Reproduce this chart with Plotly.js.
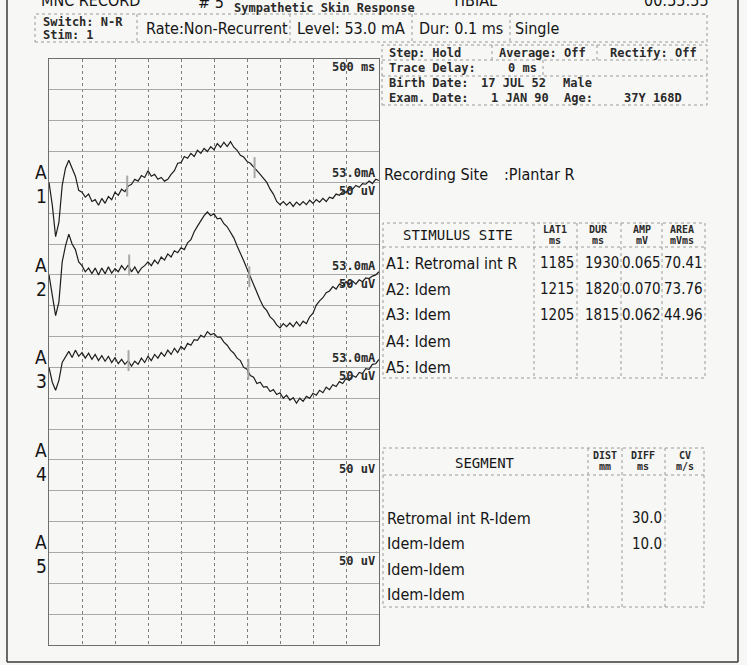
<!DOCTYPE html>
<html>
<head>
<meta charset="utf-8">
<script src="https://cdn.plot.ly/plotly-3.0.1.min.js"></script>
<style>
  html, body { margin: 0; padding: 0; background: #f7f7f5; }
  #chart { width: 747px; height: 665px; }
</style>
</head>
<body>
<div id="chart"></div>
<script>
// sweep: 500 ms/div, 10 div; sensitivity 50 uV/div
const sampleMs = 50;

// amplitudes in uV relative to each channel baseline, one sample every 50 ms
const ch1Uv = [0, -37, -88, -65, -5, 23, 36, 24, 10, -13, -16, -24, -19, -31, -28, -37, -26, -34, -23, -28,
  -16, -21, -11, -15, -6, -3, 5, 2, 11, 8, 19, 10, 13, 5, 8, 2, 5, 13, 19, 31,
  32, 42, 39, 47, 42, 52, 47, 55, 50, 58, 53, 63, 57, 65, 58, 66, 57, 52, 44, 41,
  34, 31, 24, 19, 13, 6, 0, -11, -19, -31, -36, -31, -37, -32, -39, -32, -37, -31, -36, -29,
  -34, -28, -32, -26, -31, -24, -26, -19, -21, -15, -16, -10, -11, -5, -8, -2, -3, 2, -2, 5, 3];

const ch2Uv = [0, -32, -66, -44, 21, 47, 66, 50, 41, 21, 15, 5, 11, 2, 11, 0, 11, 2, 13, 3,
  10, 5, 15, 8, 16, 5, 13, 3, 11, 15, 21, 15, 24, 18, 29, 24, 34, 29, 39, 36,
  44, 41, 52, 57, 70, 79, 88, 96, 102, 96, 99, 91, 92, 83, 78, 68, 60, 47, 36, 23,
  10, -3, -18, -31, -41, -52, -58, -68, -73, -81, -86, -79, -84, -78, -84, -76, -83, -75, -79, -68,
  -62, -49, -42, -37, -29, -26, -19, -23, -15, -18, -11, -16, -10, -15, -8, -11, -5, -6, -2, 0, 5];

const ch3Uv = [0, -24, -37, -21, 8, 18, 26, 16, 28, 18, 24, 15, 23, 13, 21, 11, 19, 10, 18, 8,
  16, 6, 13, 5, 11, 2, 10, 5, 15, 8, 18, 11, 21, 15, 24, 18, 28, 21, 31, 24,
  34, 29, 39, 36, 45, 44, 52, 49, 58, 53, 55, 49, 49, 41, 36, 28, 23, 15, 11, 0,
  -3, -13, -16, -26, -24, -32, -31, -39, -36, -44, -41, -50, -45, -53, -49, -58, -50, -55, -47, -50,
  -42, -45, -37, -41, -32, -36, -28, -31, -23, -26, -18, -21, -13, -16, -8, -10, -2, -3, 5, 6, 13];

const channels = ["1", "2", "3", "4", "5"];
const channelLevel = ["53.0mA", "53.0mA", "53.0mA", null, null];
const channelSens = "50 uV";

const stimSites = ["A1: Retromal int R", "A2: Idem", "A3: Idem", "A4: Idem", "A5: Idem"];
const lat1Ms = [1185, 1215, 1205];
const durMs = [1930, 1820, 1815];
const ampMv = ["0.065", "0.070", "0.062"];
const areaMvms = ["70.41", "73.76", "44.96"];

const segments = ["Retromal int R-Idem", "Idem-Idem", "Idem-Idem", "Idem-Idem"];
const segDiffMs = ["30.0", "10.0"];

// ---- layout helpers (page pixels -> paper) ----
const W = 747, H = 665;
const px = x => x / W;
const py = y => 1 - y / H;
const baseUv = [750, 600, 450, 300, 150];

const cond = "DejaVu Sans Condensed, Liberation Sans, sans-serif";
const big = { family: cond, size: 16, color: "#151515" };
const num = { family: cond, size: 15, color: "#151515" };
const mono = { family: "DejaVu Sans Mono, monospace", size: 14, color: "#151515" };
const small = { family: "DejaVu Sans Mono, monospace", size: 12, color: "#2a2a2a", weight: "bold" };
const tiny = { family: "DejaVu Sans Mono, monospace", size: 10, color: "#2a2a2a", weight: "bold" };

function txt(x, y, text, font, xanchor) {
  return { xref: "paper", yref: "paper", x: px(x), y: py(y), text: text, showarrow: false,
    xanchor: xanchor || "left", yanchor: "middle", font: font, borderpad: 0 };
}
function box(x0, y0, x1, y1) {
  return { type: "rect", xref: "paper", yref: "paper", x0: px(x0), x1: px(x1), y0: py(y1), y1: py(y0),
    line: { color: "#9a9a9a", width: 1, dash: "dot" } };
}
function vline(x, y0, y1, color, dash) {
  return { type: "line", xref: "paper", yref: "paper", x0: px(x), x1: px(x), y0: py(y0), y1: py(y1),
    line: { color: color || "#9a9a9a", width: 1, dash: dash || "dot" } };
}
function hline(x0, x1, y, color, dash) {
  return { type: "line", xref: "paper", yref: "paper", x0: px(x0), x1: px(x1), y0: py(y), y1: py(y),
    line: { color: color || "#9a9a9a", width: 1, dash: dash || "dot" } };
}

// ---- traces ----
const waves = [ch1Uv, ch2Uv, ch3Uv];
const traces = waves.map((w, i) => ({
  type: "scatter", mode: "lines", x0: 0, dx: sampleMs,
  y: w.map(v => v + baseUv[i]),
  line: { color: "#1e1e1e", width: 1.2 },
  hoverinfo: "skip", showlegend: false
}));

// latency markers at LAT1 and LAT1 + DUR
waves.forEach((w, i) => {
  [lat1Ms[i], lat1Ms[i] + durMs[i]].forEach(t => {
    const v = w[Math.round(t / sampleMs)] + baseUv[i];
    traces.push({
      type: "scatter", mode: "lines", x: [t, t], y: [v - 17, v + 17],
      line: { color: "#a8a8a8", width: 2 }, hoverinfo: "skip", showlegend: false
    });
  });
});

// ---- text ----
const ann = [];
ann.push(txt(40, 1, "MNC RECORD", big));
ann.push(txt(197, 3, "# 5", big));
ann.push(txt(233, 8, "Sympathetic Skin Response", small));
ann.push(txt(450, 1, "TIBIAL", big));
ann.push(txt(643, 1, "00:55:55", big));

ann.push(txt(42, 22, "Switch: N-R", small));
ann.push(txt(42, 35, "Stim: 1", small));
ann.push(txt(145, 28, "Rate:Non-Recurrent", big));
ann.push(txt(296, 28, "Level: 53.0 mA", big));
ann.push(txt(418, 28, "Dur: 0.1 ms", big));
ann.push(txt(514, 28, "Single", big));

ann.push(txt(388, 53, "Step: Hold", small));
ann.push(txt(498, 53, "Average: Off", small));
ann.push(txt(609, 53, "Rectify: Off", small));
ann.push(txt(388, 68, "Trace Delay:", small));
ann.push(txt(507, 68, "0 ms", small));
ann.push(txt(388, 83, "Birth Date:", small));
ann.push(txt(480, 83, "17 JUL 52", small));
ann.push(txt(562, 83, "Male", small));
ann.push(txt(388, 98, "Exam. Date:", small));
ann.push(txt(490, 98, "1 JAN 90", small));
ann.push(txt(563, 98, "Age:", small));
ann.push(txt(623, 98, "37Y 168D", small));

ann.push(txt(376, 67, "500 ms", small, "right"));

channels.forEach((c, i) => {
  const yb = 182 + i * 92.5;
  ann.push(txt(41, yb - 10, "A", { ...big, size: 19 }, "center"));
  ann.push(txt(41, yb + 14, c, { ...big, size: 19 }, "center"));
  if (channelLevel[i]) ann.push(txt(377, yb - 9, channelLevel[i], small, "right"));
  ann.push(txt(376, yb + 9, channelSens, small, "right"));
});

ann.push(txt(383, 175, "Recording Site", big));
ann.push(txt(503, 175, ":Plantar R", big));

// stimulus table
ann.push(txt(458, 235, "STIMULUS SITE", mono, "center"));
[["LAT1", "ms", 555], ["DUR", "ms", 598], ["AMP", "mV", 642], ["AREA", "mVms", 682]].forEach(h => {
  ann.push(txt(h[2], 229, h[0], tiny, "center"));
  ann.push(txt(h[2], 240, h[1], tiny, "center"));
});
stimSites.forEach((s, i) => {
  const y = 263 + i * 26;
  ann.push(txt(385, y, s, big));
  if (i < lat1Ms.length) {
    ann.push(txt(575, y, String(lat1Ms[i]), num, "right"));
    ann.push(txt(620, y, String(durMs[i]), num, "right"));
    ann.push(txt(662, y, ampMv[i], num, "right"));
    ann.push(txt(704, y, areaMvms[i], num, "right"));
  }
});

// segment table
ann.push(txt(485, 463, "SEGMENT", mono, "center"));
[["DIST", "mm", 605], ["DIFF", "ms", 643], ["CV", "m/s", 685]].forEach(h => {
  ann.push(txt(h[2], 455, h[0], tiny, "center"));
  ann.push(txt(h[2], 466, h[1], tiny, "center"));
});
segments.forEach((s, i) => {
  const y = 518 + i * 25.5;
  ann.push(txt(386, y, s, big));
  if (segDiffMs[i]) ann.push(txt(663, y, segDiffMs[i], num, "right"));
});

// ---- boxes ----
const shapes = [];
// page frame
shapes.push(vline(7, 0, 662, "#3a3a3a", "solid"));
shapes.push(vline(738, 0, 662, "#3a3a3a", "solid"));
shapes.push(hline(7, 738, 662, "#3a3a3a", "solid"));
shapes[0].line.width = 1.5; shapes[1].line.width = 1.5; shapes[2].line.width = 1.5;

// header row
shapes.push(box(35, 14, 707, 42));
[137, 290, 412, 510].forEach(x => shapes.push(vline(x, 14, 42)));
// info block
shapes.push(box(382, 45, 707, 105));
shapes.push(hline(382, 707, 60));
shapes.push(hline(382, 707, 76));
shapes.push(vline(492, 45, 60));
shapes.push(vline(597, 45, 60));
shapes.push(vline(543, 60, 76));
// stimulus table
shapes.push(box(383, 223, 705, 378));
shapes.push(hline(383, 705, 247));
[534, 577, 621, 662].forEach(x => shapes.push(vline(x, 223, 378)));
// segment table
shapes.push(box(383, 448, 704, 607));
shapes.push(hline(383, 704, 475));
[588, 622, 665].forEach(x => shapes.push(vline(x, 448, 607)));

const layout = {
  width: W, height: H,
  margin: { l: 0, r: 0, t: 0, b: 0 },
  paper_bgcolor: "#f7f7f5", plot_bgcolor: "#f7f7f5",
  showlegend: false,
  xaxis: {
    domain: [px(49), px(379)], range: [0, 5000], dtick: 500, tick0: 0,
    showgrid: true, gridcolor: "#7d7d7d", griddash: "dot", gridwidth: 1,
    zeroline: false, showticklabels: false, ticks: "",
    showline: true, mirror: true, linecolor: "#6e6e6e", linewidth: 1.2, fixedrange: true
  },
  yaxis: {
    domain: [py(645), py(59)], range: [0, 950], dtick: 50, tick0: 0,
    showgrid: true, gridcolor: "#a9a9a9", gridwidth: 1,
    zeroline: false, showticklabels: false, ticks: "",
    showline: true, mirror: true, linecolor: "#6e6e6e", linewidth: 1.2, fixedrange: true
  },
  annotations: ann,
  shapes: shapes
};

Plotly.newPlot("chart", traces, layout, { staticPlot: true, displayModeBar: false });
</script>
</body>
</html>
